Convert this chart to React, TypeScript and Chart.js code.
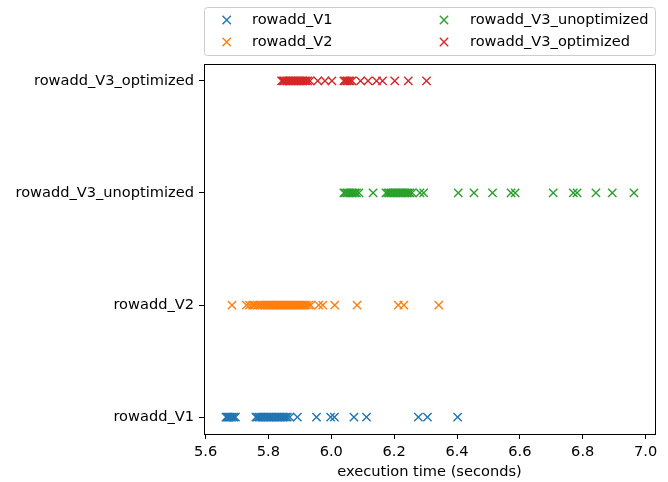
import React, { useEffect, useRef } from "react";
import { Chart, registerables } from "chart.js";

Chart.register(...registerables);

const seriesNames = ["rowadd_V1", "rowadd_V2", "rowadd_V3_unoptimized", "rowadd_V3_optimized"];
const seriesColors = ["#1f77b4", "#ff7f0e", "#2ca02c", "#d62728"];
const xTickValues = [5.6, 5.8, 6.0, 6.2, 6.4, 6.6, 6.8, 7.0];

const v1Times = [
  5.665, 5.668, 5.672, 5.675, 5.678, 5.682, 5.685, 5.69, 5.695,
  5.76, 5.765, 5.77, 5.775, 5.78, 5.785, 5.79, 5.795, 5.8, 5.805, 5.81, 5.815, 5.82,
  5.825, 5.83, 5.835, 5.84, 5.845, 5.85, 5.855, 5.86, 5.868, 5.892,
  5.953, 5.998, 6.01, 6.072, 6.112, 6.277, 6.306, 6.402,
];
const v2Times = [
  5.684, 5.73, 5.74, 5.75, 5.756, 5.765, 5.772, 5.778, 5.785, 5.79, 5.795, 5.8, 5.805,
  5.81, 5.815, 5.82, 5.825, 5.83, 5.835, 5.84, 5.845, 5.85, 5.855, 5.86, 5.865, 5.87,
  5.875, 5.88, 5.885, 5.89, 5.895, 5.9, 5.905, 5.91, 5.915, 5.92, 5.928, 5.935,
  5.96, 5.973, 6.011, 6.082, 6.213, 6.231, 6.342,
];
const v3UnoptTimes = [
  6.04, 6.045, 6.05, 6.055, 6.06, 6.065, 6.07, 6.075, 6.08, 6.088, 6.133,
  6.174, 6.18, 6.185, 6.19, 6.195, 6.2, 6.205, 6.21, 6.215, 6.22, 6.225, 6.23, 6.235,
  6.24, 6.245, 6.25, 6.257, 6.282, 6.294,
  6.404, 6.454, 6.513, 6.572, 6.585, 6.706, 6.77, 6.782, 6.842, 6.894, 6.963,
];
const v3OptTimes = [
  5.842, 5.846, 5.85, 5.855, 5.86, 5.865, 5.87, 5.875, 5.88, 5.885, 5.89, 5.895, 5.9,
  5.905, 5.91, 5.915, 5.92, 5.925, 5.932, 5.957, 5.98, 6.002, 6.04, 6.045, 6.05, 6.055,
  6.06, 6.066, 6.093, 6.117, 6.144, 6.163, 6.202, 6.245, 6.303,
];

const seriesTimes = [v1Times, v2Times, v3UnoptTimes, v3OptTimes];

const FONT = "DejaVu Sans";
const FONT_SIZE = 14.6;

const framePlugin = {
  id: "frame",
  afterDraw(chart: any) {
    const { ctx, chartArea } = chart;
    ctx.save();
    ctx.strokeStyle = "#000";
    ctx.lineWidth = 1;
    const l = Math.round(chartArea.left) + 0.5;
    const t = Math.round(chartArea.top) + 0.5;
    const r = Math.round(chartArea.right) + 0.5;
    const b = Math.round(chartArea.bottom) + 0.5;
    ctx.strokeRect(l, t, r - l, b - t);
    ctx.restore();
  },
};

const legendPlugin = {
  id: "mplLegend",
  afterDraw(chart: any) {
    const { ctx } = chart;
    const datasets = chart.data.datasets;
    ctx.save();
    const bx = 204.5, by = 7.5, bw = 451, bh = 48, rr = 3;
    ctx.beginPath();
    ctx.moveTo(bx + rr, by);
    ctx.lineTo(bx + bw - rr, by);
    ctx.quadraticCurveTo(bx + bw, by, bx + bw, by + rr);
    ctx.lineTo(bx + bw, by + bh - rr);
    ctx.quadraticCurveTo(bx + bw, by + bh, bx + bw - rr, by + bh);
    ctx.lineTo(bx + rr, by + bh);
    ctx.quadraticCurveTo(bx, by + bh, bx, by + bh - rr);
    ctx.lineTo(bx, by + rr);
    ctx.quadraticCurveTo(bx, by, bx + rr, by);
    ctx.closePath();
    ctx.fillStyle = "rgba(255,255,255,0.8)";
    ctx.fill();
    ctx.strokeStyle = "#cccccc";
    ctx.lineWidth = 1;
    ctx.stroke();

    const cols = [226.7, 444];
    const textX = [252, 470];
    const rows = [20, 42];
    ctx.font = `${FONT_SIZE}px "${FONT}"`;
    ctx.textBaseline = "middle";
    ctx.textAlign = "left";
    datasets.forEach((ds: any, i: number) => {
      const c = Math.floor(i / 2);
      const r = i % 2;
      const mx = cols[c];
      const my = rows[r];
      const h = 4.17;
      ctx.strokeStyle = ds.borderColor;
      ctx.lineWidth = 1.4;
      ctx.beginPath();
      ctx.moveTo(mx - h, my - h);
      ctx.lineTo(mx + h, my + h);
      ctx.moveTo(mx - h, my + h);
      ctx.lineTo(mx + h, my - h);
      ctx.stroke();
      ctx.fillStyle = "#000";
      ctx.fillText(ds.label, textX[c], my);
    });
    ctx.restore();
  },
};

export default function App() {
  const canvasRef = useRef<HTMLCanvasElement | null>(null);

  useEffect(() => {
    const canvas = canvasRef.current;
    if (!canvas) return;
    Chart.defaults.font.family = FONT;
    Chart.defaults.font.size = FONT_SIZE;
    Chart.defaults.color = "#000";

    const chart = new Chart(canvas, {
      type: "scatter",
      data: {
        datasets: seriesNames.map((name, i) => ({
          label: name,
          data: seriesTimes[i].map((t) => ({ x: t, y: i })),
          borderColor: seriesColors[i],
          backgroundColor: seriesColors[i],
          pointStyle: "crossRot",
          pointRadius: 5.9,
          pointHoverRadius: 5.9,
          borderWidth: 1.4,
        })),
      },
      options: {
        responsive: false,
        animation: false,
        devicePixelRatio: 1,
        events: [],
        layout: { padding: { top: 64, right: 13, bottom: 0, left: 0 } },
        plugins: {
          legend: { display: false },
          tooltip: { enabled: false },
        },
        scales: {
          x: {
            type: "linear",
            min: 5.595,
            max: 7.03,
            afterFit: (s: any) => {
              s.height = 48;
            },
            afterBuildTicks: (s: any) => {
              s.ticks = xTickValues.map((v) => ({ value: v }));
            },
            ticks: {
              autoSkip: false,
              maxRotation: 0,
              padding: 4,
              color: "#000",
              font: { family: FONT, size: FONT_SIZE },
              callback: (v: any) => Number(v).toFixed(1),
            },
            grid: { drawOnChartArea: false, drawTicks: true, tickLength: 5, color: "#000", tickWidth: 1 },
            border: { display: false },
            title: {
              display: true,
              text: "execution time (seconds)",
              color: "#000",
              font: { family: FONT, size: FONT_SIZE },
              padding: { top: 0, bottom: 1 },
            },
          },
          y: {
            type: "linear",
            min: -0.15,
            max: 3.15,
            afterFit: (s: any) => {
              s.width = 204;
            },
            afterBuildTicks: (s: any) => {
              s.ticks = seriesNames.map((_, i) => ({ value: i }));
            },
            ticks: {
              autoSkip: false,
              padding: 5,
              color: "#000",
              font: { family: FONT, size: FONT_SIZE },
              callback: (v: any) => seriesNames[Math.round(Number(v))] ?? "",
            },
            grid: { drawOnChartArea: false, drawTicks: true, tickLength: 5, color: "#000", tickWidth: 1 },
            border: { display: false },
          },
        },
      },
      plugins: [framePlugin, legendPlugin],
    } as any);

    return () => {
      chart.destroy();
    };
  }, []);

  return (
    <div style={{ position: "absolute", left: 0, top: 0, width: 668, height: 482, background: "#fff" }}>
      <canvas ref={canvasRef} width={668} height={482} style={{ display: "block", width: 668, height: 482 }} />
    </div>
  );
}
